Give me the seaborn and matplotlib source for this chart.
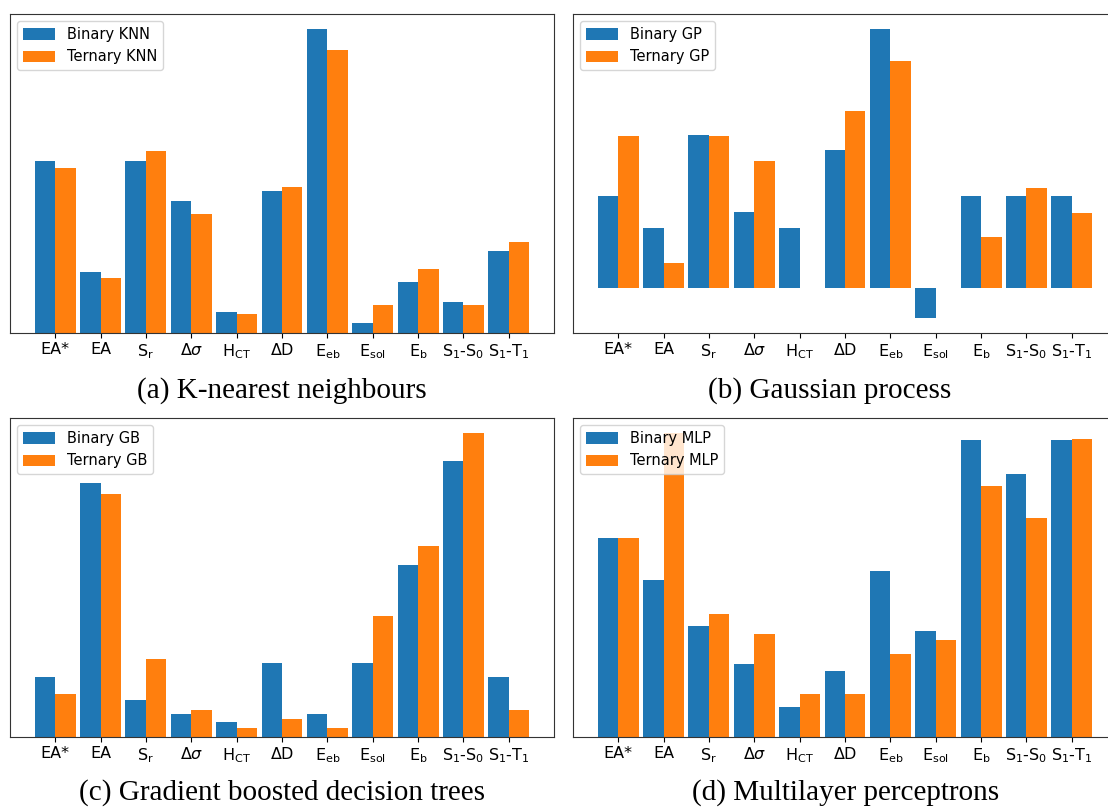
import numpy as np
import pandas as pd
import matplotlib
matplotlib.use("Agg")
import matplotlib.pyplot as plt
import seaborn as sns

# Descriptor names shown on the x axis
features = ["EA*", "EA", "S$_\\mathrm{r}$", "$\\Delta\\sigma$", "H$_\\mathrm{CT}$",
            "$\\Delta$D", "E$_\\mathrm{eb}$", "E$_\\mathrm{sol}$", "E$_\\mathrm{b}$",
            "S$_1$-S$_0$", "S$_1$-T$_1$"]

# Feature importances per model (binary vs ternary)
knn_binary = [0.172, 0.061, 0.172, 0.132, 0.021, 0.142, 0.304, 0.010, 0.051, 0.031, 0.082]
knn_ternary = [0.165, 0.055, 0.182, 0.119, 0.019, 0.146, 0.283, 0.028, 0.064, 0.028, 0.091]

gp_binary = [0.092, 0.060, 0.152, 0.076, 0.060, 0.137, 0.258, -0.030, 0.092, 0.092, 0.092]
gp_ternary = [0.151, 0.025, 0.151, 0.126, 0.000, 0.176, 0.226, 0.000, 0.051, 0.100, 0.075]

gb_binary = [0.060, 0.254, 0.037, 0.023, 0.015, 0.074, 0.023, 0.074, 0.172, 0.276, 0.060]
gb_ternary = [0.043, 0.243, 0.078, 0.027, 0.009, 0.018, 0.009, 0.121, 0.191, 0.304, 0.027]

mlp_binary = [0.199, 0.157, 0.111, 0.073, 0.030, 0.066, 0.166, 0.106, 0.297, 0.263, 0.297]
mlp_ternary = [0.199, 0.304, 0.123, 0.103, 0.043, 0.043, 0.083, 0.097, 0.251, 0.219, 0.298]

panels = [
    ("KNN", knn_binary, knn_ternary, "(a) K-nearest neighbours"),
    ("GP", gp_binary, gp_ternary, "(b) Gaussian process"),
    ("GB", gb_binary, gb_ternary, "(c) Gradient boosted decision trees"),
    ("MLP", mlp_binary, mlp_ternary, "(d) Multilayer perceptrons"),
]

W, H = 1108, 807
fig = plt.figure(figsize=(W / 100, H / 100), dpi=100)
fig.patch.set_facecolor("white")

# axes boxes in pixels: left, top, width, height
boxes = [(10, 14, 544, 319), (573, 14, 544, 319),
         (10, 418, 544, 319), (573, 418, 544, 319)]
# caption anchor in pixels: x centre, baseline y
captions = [(282, 398), (830, 398), (282, 800), (846, 800)]

colors = ["#1f77b4", "#ff7f0e"]
n = len(features)

for (name, b_vals, t_vals, caption), (l, t, w, h), (cx, cy) in zip(panels, boxes, captions):
    ax = fig.add_axes([l / W, 1 - (t + h) / H, w / W, h / H])
    df = pd.DataFrame({
        "feature": features * 2,
        "importance": list(b_vals) + list(t_vals),
        "model": [f"Binary {name}"] * n + [f"Ternary {name}"] * n,
    })
    sns.barplot(data=df, x="feature", y="importance", hue="model",
                order=features, hue_order=[f"Binary {name}", f"Ternary {name}"],
                palette=colors, width=0.9, linewidth=0, saturation=1,
                errorbar=None, ax=ax)
    ax.set_xlim(-0.995, n - 1 + 0.995)
    vals = np.array(list(b_vals) + list(t_vals))
    lo, hi = min(0.0, vals.min()), max(0.0, vals.max())
    rng = hi - lo
    ax.set_ylim(lo - (0.05 * rng if lo < 0 else 0), hi + 0.05 * rng)
    ax.set_yticks([])
    ax.set_xlabel("")
    ax.set_ylabel("")
    ax.tick_params(axis="x", labelsize=11.5, length=3.5, width=0.8, pad=3)
    for s in ax.spines.values():
        s.set_linewidth(0.8)
        s.set_color("#333333")
    handles, labels = ax.get_legend_handles_labels()
    ax.legend(handles, labels, loc="upper left", fontsize=10.5, framealpha=0.8,
              handlelength=2.2, handleheight=0.8)
    fig.text(cx / W, 1 - cy / H, caption, ha="center", va="baseline",
             family="Liberation Serif", fontsize=21)

fig.savefig("out.png", dpi=100)
